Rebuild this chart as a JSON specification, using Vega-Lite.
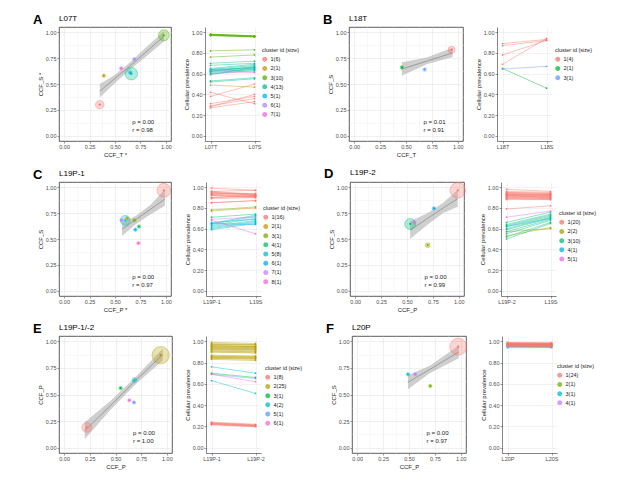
{
"$schema":"https://vega.github.io/schema/vega-lite/v6.json",
"padding":{"left":32,"top":13,"right":5,"bottom":5},
"background":"white",
"config":{"font":"Liberation Sans","view":{"stroke":null},
"axis":{"labelFontSize":5.5,"labelColor":"#4D4D4D","titleFontSize":6,"titleFontWeight":"normal","titleColor":"#1a1a1a","tickSize":2,"tickColor":"#333333","tickWidth":0.5,"labelPadding":1,"titlePadding":2,"domainColor":"#333333","domainWidth":0.6,"gridColor":"#E5E5E5","gridWidth":0.5,"labelFlush":false,"labelOverlap":false},
"legend":{"titleFontSize":5.5,"titleFontWeight":"normal","labelFontSize":5.5,"symbolSize":12,"symbolType":"circle","rowPadding":-0.8,"titlePadding":3,"labelOffset":3,"titleColor":"#1a1a1a","labelColor":"#1a1a1a","padding":0},
"title":{"fontSize":8,"fontWeight":"normal","anchor":"start","color":"#000000"}},
"datasets":{
"A_pts":[{"c":"1(6)","x":0.35,"y":0.30,"n":6},{"c":"2(1)","x":0.39,"y":0.58,"n":1},{"c":"3(10)","x":0.98,"y":0.97,"n":10},{"c":"4(13)","x":0.66,"y":0.60,"n":13},{"c":"5(1)","x":0.65,"y":0.61,"n":1},{"c":"6(1)","x":0.69,"y":0.74,"n":1},{"c":"7(1)","x":0.56,"y":0.65,"n":1}],
"A_band":[{"x":0.35,"lo":0.37,"hi":0.50,"fit":0.43},{"x":0.5,"lo":0.51,"hi":0.59,"fit":0.555},{"x":0.66,"lo":0.65,"hi":0.72,"fit":0.685},{"x":0.8,"lo":0.76,"hi":0.85,"fit":0.805},{"x":0.98,"lo":0.91,"hi":1.01,"fit":0.96}],
"A_lines":[{"m":1,"c":"1(6)","L07T":0.28,"L07S":0.40},{"m":2,"c":"1(6)","L07T":0.29,"L07S":0.36},{"m":3,"c":"1(6)","L07T":0.27,"L07S":0.33},{"m":4,"c":"1(6)","L07T":0.38,"L07S":0.50},{"m":5,"c":"1(6)","L07T":0.42,"L07S":0.31},{"m":6,"c":"1(6)","L07T":0.31,"L07S":0.38},{"m":7,"c":"2(1)","L07T":0.49,"L07S":0.47},{"m":8,"c":"3(10)","L07T":0.98,"L07S":0.96},{"m":9,"c":"3(10)","L07T":0.98,"L07S":0.965},{"m":10,"c":"3(10)","L07T":0.975,"L07S":0.955},{"m":11,"c":"3(10)","L07T":0.975,"L07S":0.96},{"m":12,"c":"3(10)","L07T":0.97,"L07S":0.96},{"m":13,"c":"3(10)","L07T":0.97,"L07S":0.955},{"m":14,"c":"3(10)","L07T":0.965,"L07S":0.955},{"m":15,"c":"3(10)","L07T":0.98,"L07S":0.965},{"m":16,"c":"3(10)","L07T":0.82,"L07S":0.83},{"m":17,"c":"3(10)","L07T":0.76,"L07S":0.78},{"m":18,"c":"4(13)","L07T":0.70,"L07S":0.72},{"m":19,"c":"4(13)","L07T":0.68,"L07S":0.70},{"m":20,"c":"4(13)","L07T":0.64,"L07S":0.68},{"m":21,"c":"4(13)","L07T":0.64,"L07S":0.66},{"m":22,"c":"4(13)","L07T":0.63,"L07S":0.65},{"m":23,"c":"4(13)","L07T":0.62,"L07S":0.64},{"m":24,"c":"4(13)","L07T":0.61,"L07S":0.64},{"m":25,"c":"4(13)","L07T":0.60,"L07S":0.63},{"m":26,"c":"4(13)","L07T":0.59,"L07S":0.66},{"m":27,"c":"4(13)","L07T":0.62,"L07S":0.67},{"m":28,"c":"4(13)","L07T":0.53,"L07S":0.56},{"m":29,"c":"4(13)","L07T":0.52,"L07S":0.55},{"m":30,"c":"4(13)","L07T":0.65,"L07S":0.69},{"m":31,"c":"5(1)","L07T":0.63,"L07S":0.66},{"m":32,"c":"6(1)","L07T":0.64,"L07S":0.61},{"m":33,"c":"7(1)","L07T":0.60,"L07S":0.62}],
"B_pts":[{"c":"1(4)","x":0.94,"y":0.83,"n":4},{"c":"2(1)","x":0.46,"y":0.66,"n":1},{"c":"3(1)","x":0.68,"y":0.64,"n":1}],
"B_band":[{"x":0.46,"lo":0.58,"hi":0.71,"fit":0.645},{"x":0.7,"lo":0.69,"hi":0.755,"fit":0.72},{"x":0.95,"lo":0.76,"hi":0.85,"fit":0.80}],
"B_lines":[{"m":1,"c":"1(4)","L18T":0.89,"L18S":0.93},{"m":2,"c":"1(4)","L18T":0.87,"L18S":0.92},{"m":3,"c":"1(4)","L18T":0.78,"L18S":0.92},{"m":4,"c":"1(4)","L18T":0.69,"L18S":0.94},{"m":5,"c":"2(1)","L18T":0.65,"L18S":0.46},{"m":6,"c":"3(1)","L18T":0.645,"L18S":0.67}],
"C_pts":[{"c":"1(16)","x":0.98,"y":0.97,"n":16},{"c":"2(1)","x":0.62,"y":0.70,"n":1},{"c":"3(1)","x":0.69,"y":0.68,"n":1},{"c":"4(1)","x":0.735,"y":0.62,"n":1},{"c":"5(8)","x":0.60,"y":0.68,"n":8},{"c":"6(1)","x":0.70,"y":0.59,"n":1},{"c":"7(1)","x":0.565,"y":0.68,"n":1},{"c":"8(1)","x":0.73,"y":0.46,"n":1}],
"C_band":[{"x":0.57,"lo":0.53,"hi":0.66,"fit":0.595},{"x":0.7,"lo":0.64,"hi":0.72,"fit":0.685},{"x":0.85,"lo":0.74,"hi":0.83,"fit":0.788},{"x":0.99,"lo":0.82,"hi":0.98,"fit":0.885}],
"C_lines":[{"m":1,"c":"1(16)","L19P-1":0.99,"L19S":0.97},{"m":2,"c":"1(16)","L19P-1":0.96,"L19S":0.93},{"m":3,"c":"1(16)","L19P-1":0.95,"L19S":0.93},{"m":4,"c":"1(16)","L19P-1":0.95,"L19S":0.92},{"m":5,"c":"1(16)","L19P-1":0.94,"L19S":0.94},{"m":6,"c":"1(16)","L19P-1":0.93,"L19S":0.91},{"m":7,"c":"1(16)","L19P-1":0.93,"L19S":0.92},{"m":8,"c":"1(16)","L19P-1":0.92,"L19S":0.90},{"m":9,"c":"1(16)","L19P-1":0.90,"L19S":0.91},{"m":10,"c":"1(16)","L19P-1":0.90,"L19S":0.92},{"m":11,"c":"1(16)","L19P-1":0.89,"L19S":0.90},{"m":12,"c":"1(16)","L19P-1":0.85,"L19S":0.87},{"m":13,"c":"1(16)","L19P-1":0.85,"L19S":0.87},{"m":14,"c":"1(16)","L19P-1":0.96,"L19S":0.97},{"m":15,"c":"1(16)","L19P-1":0.94,"L19S":0.93},{"m":16,"c":"1(16)","L19P-1":0.92,"L19S":0.91},{"m":17,"c":"2(1)","L19P-1":0.77,"L19S":0.80},{"m":18,"c":"3(1)","L19P-1":0.78,"L19S":0.81},{"m":19,"c":"4(1)","L19P-1":0.71,"L19S":0.74},{"m":20,"c":"5(8)","L19P-1":0.64,"L19S":0.72},{"m":21,"c":"5(8)","L19P-1":0.63,"L19S":0.70},{"m":22,"c":"5(8)","L19P-1":0.62,"L19S":0.68},{"m":23,"c":"5(8)","L19P-1":0.61,"L19S":0.67},{"m":24,"c":"5(8)","L19P-1":0.60,"L19S":0.66},{"m":25,"c":"5(8)","L19P-1":0.59,"L19S":0.65},{"m":26,"c":"5(8)","L19P-1":0.65,"L19S":0.73},{"m":27,"c":"5(8)","L19P-1":0.66,"L19S":0.69},{"m":28,"c":"6(1)","L19P-1":0.65,"L19S":0.64},{"m":29,"c":"7(1)","L19P-1":0.69,"L19S":0.71},{"m":30,"c":"8(1)","L19P-1":0.68,"L19S":0.55}],
"D_pts":[{"c":"1(20)","x":0.99,"y":0.97,"n":20},{"c":"2(2)","x":0.70,"y":0.44,"n":2},{"c":"3(10)","x":0.53,"y":0.645,"n":10},{"c":"4(1)","x":0.76,"y":0.795,"n":1},{"c":"5(1)","x":0.57,"y":0.66,"n":1}],
"D_band":[{"x":0.53,"lo":0.50,"hi":0.67,"fit":0.585},{"x":0.7,"lo":0.64,"hi":0.75,"fit":0.70},{"x":0.85,"lo":0.75,"hi":0.85,"fit":0.80},{"x":0.99,"lo":0.81,"hi":0.975,"fit":0.89}],
"D_lines":[{"m":1,"c":"1(20)","L19P-2":0.98,"L19S":0.96},{"m":2,"c":"1(20)","L19P-2":0.96,"L19S":0.95},{"m":3,"c":"1(20)","L19P-2":0.95,"L19S":0.94},{"m":4,"c":"1(20)","L19P-2":0.94,"L19S":0.93},{"m":5,"c":"1(20)","L19P-2":0.93,"L19S":0.93},{"m":6,"c":"1(20)","L19P-2":0.93,"L19S":0.92},{"m":7,"c":"1(20)","L19P-2":0.92,"L19S":0.92},{"m":8,"c":"1(20)","L19P-2":0.92,"L19S":0.91},{"m":9,"c":"1(20)","L19P-2":0.91,"L19S":0.91},{"m":10,"c":"1(20)","L19P-2":0.91,"L19S":0.90},{"m":11,"c":"1(20)","L19P-2":0.90,"L19S":0.90},{"m":12,"c":"1(20)","L19P-2":0.90,"L19S":0.89},{"m":13,"c":"1(20)","L19P-2":0.89,"L19S":0.89},{"m":14,"c":"1(20)","L19P-2":0.89,"L19S":0.88},{"m":15,"c":"1(20)","L19P-2":0.88,"L19S":0.88},{"m":16,"c":"1(20)","L19P-2":0.95,"L19S":0.94},{"m":17,"c":"1(20)","L19P-2":0.94,"L19S":0.93},{"m":18,"c":"1(20)","L19P-2":0.93,"L19S":0.92},{"m":19,"c":"1(20)","L19P-2":0.79,"L19S":0.82},{"m":20,"c":"1(20)","L19P-2":0.92,"L19S":0.90},{"m":21,"c":"2(2)","L19P-2":0.57,"L19S":0.60},{"m":22,"c":"2(2)","L19P-2":0.53,"L19S":0.61},{"m":23,"c":"3(10)","L19P-2":0.66,"L19S":0.76},{"m":24,"c":"3(10)","L19P-2":0.64,"L19S":0.74},{"m":25,"c":"3(10)","L19P-2":0.63,"L19S":0.73},{"m":26,"c":"3(10)","L19P-2":0.62,"L19S":0.72},{"m":27,"c":"3(10)","L19P-2":0.60,"L19S":0.71},{"m":28,"c":"3(10)","L19P-2":0.59,"L19S":0.70},{"m":29,"c":"3(10)","L19P-2":0.57,"L19S":0.69},{"m":30,"c":"3(10)","L19P-2":0.55,"L19S":0.68},{"m":31,"c":"3(10)","L19P-2":0.52,"L19S":0.66},{"m":32,"c":"3(10)","L19P-2":0.50,"L19S":0.65},{"m":33,"c":"4(1)","L19P-2":0.62,"L19S":0.70},{"m":34,"c":"5(1)","L19P-2":0.71,"L19S":0.77}],
"E_pts":[{"c":"1(8)","x":0.22,"y":0.19,"n":8},{"c":"2(25)","x":0.94,"y":0.87,"n":25},{"c":"3(1)","x":0.55,"y":0.56,"n":1},{"c":"4(2)","x":0.685,"y":0.635,"n":2},{"c":"5(1)","x":0.68,"y":0.425,"n":1},{"c":"6(1)","x":0.635,"y":0.445,"n":1}],
"E_band":[{"x":0.2,"lo":0.08,"hi":0.24,"fit":0.16},{"x":0.45,"lo":0.355,"hi":0.44,"fit":0.395},{"x":0.7,"lo":0.60,"hi":0.67,"fit":0.635},{"x":0.96,"lo":0.82,"hi":0.93,"fit":0.875}],
"E_lines":[{"m":1,"c":"1(8)","L19P-1":0.24,"L19P-2":0.22},{"m":2,"c":"1(8)","L19P-1":0.235,"L19P-2":0.215},{"m":3,"c":"1(8)","L19P-1":0.23,"L19P-2":0.21},{"m":4,"c":"1(8)","L19P-1":0.23,"L19P-2":0.21},{"m":5,"c":"1(8)","L19P-1":0.225,"L19P-2":0.205},{"m":6,"c":"1(8)","L19P-1":0.22,"L19P-2":0.20},{"m":7,"c":"1(8)","L19P-1":0.22,"L19P-2":0.20},{"m":8,"c":"1(8)","L19P-1":0.215,"L19P-2":0.20},{"m":9,"c":"2(25)","L19P-1":0.99,"L19P-2":0.98},{"m":10,"c":"2(25)","L19P-1":0.98,"L19P-2":0.97},{"m":11,"c":"2(25)","L19P-1":0.97,"L19P-2":0.97},{"m":12,"c":"2(25)","L19P-1":0.97,"L19P-2":0.96},{"m":13,"c":"2(25)","L19P-1":0.96,"L19P-2":0.95},{"m":14,"c":"2(25)","L19P-1":0.95,"L19P-2":0.95},{"m":15,"c":"2(25)","L19P-1":0.95,"L19P-2":0.94},{"m":16,"c":"2(25)","L19P-1":0.94,"L19P-2":0.94},{"m":17,"c":"2(25)","L19P-1":0.94,"L19P-2":0.93},{"m":18,"c":"2(25)","L19P-1":0.93,"L19P-2":0.93},{"m":19,"c":"2(25)","L19P-1":0.93,"L19P-2":0.92},{"m":20,"c":"2(25)","L19P-1":0.92,"L19P-2":0.92},{"m":21,"c":"2(25)","L19P-1":0.92,"L19P-2":0.91},{"m":22,"c":"2(25)","L19P-1":0.91,"L19P-2":0.90},{"m":23,"c":"2(25)","L19P-1":0.90,"L19P-2":0.90},{"m":24,"c":"2(25)","L19P-1":0.90,"L19P-2":0.89},{"m":25,"c":"2(25)","L19P-1":0.87,"L19P-2":0.86},{"m":26,"c":"2(25)","L19P-1":0.86,"L19P-2":0.86},{"m":27,"c":"2(25)","L19P-1":0.86,"L19P-2":0.85},{"m":28,"c":"2(25)","L19P-1":0.85,"L19P-2":0.85},{"m":29,"c":"2(25)","L19P-1":0.85,"L19P-2":0.84},{"m":30,"c":"2(25)","L19P-1":0.84,"L19P-2":0.84},{"m":31,"c":"2(25)","L19P-1":0.84,"L19P-2":0.83},{"m":32,"c":"2(25)","L19P-1":0.83,"L19P-2":0.82},{"m":33,"c":"2(25)","L19P-1":0.96,"L19P-2":0.95},{"m":34,"c":"3(1)","L19P-1":0.70,"L19P-2":0.66},{"m":35,"c":"4(2)","L19P-1":0.76,"L19P-2":0.70},{"m":36,"c":"4(2)","L19P-1":0.63,"L19P-2":0.51},{"m":37,"c":"5(1)","L19P-1":0.69,"L19P-2":0.65},{"m":38,"c":"6(1)","L19P-1":0.69,"L19P-2":0.62}],
"F_pts":[{"c":"1(24)","x":0.975,"y":0.95,"n":24},{"c":"2(1)","x":0.705,"y":0.58,"n":1},{"c":"3(1)","x":0.49,"y":0.69,"n":1},{"c":"4(1)","x":0.56,"y":0.69,"n":1}],
"F_band":[{"x":0.49,"lo":0.55,"hi":0.68,"fit":0.615},{"x":0.7,"lo":0.70,"hi":0.77,"fit":0.735},{"x":0.98,"lo":0.84,"hi":0.96,"fit":0.90}],
"F_lines":[{"m":1,"c":"1(24)","L20P":0.99,"L20S":0.985},{"m":2,"c":"1(24)","L20P":0.985,"L20S":0.98},{"m":3,"c":"1(24)","L20P":0.98,"L20S":0.98},{"m":4,"c":"1(24)","L20P":0.98,"L20S":0.975},{"m":5,"c":"1(24)","L20P":0.975,"L20S":0.975},{"m":6,"c":"1(24)","L20P":0.975,"L20S":0.97},{"m":7,"c":"1(24)","L20P":0.97,"L20S":0.97},{"m":8,"c":"1(24)","L20P":0.97,"L20S":0.965},{"m":9,"c":"1(24)","L20P":0.97,"L20S":0.97},{"m":10,"c":"1(24)","L20P":0.965,"L20S":0.965},{"m":11,"c":"1(24)","L20P":0.965,"L20S":0.96},{"m":12,"c":"1(24)","L20P":0.96,"L20S":0.96},{"m":13,"c":"1(24)","L20P":0.96,"L20S":0.955},{"m":14,"c":"1(24)","L20P":0.96,"L20S":0.96},{"m":15,"c":"1(24)","L20P":0.955,"L20S":0.955},{"m":16,"c":"1(24)","L20P":0.955,"L20S":0.95},{"m":17,"c":"1(24)","L20P":0.95,"L20S":0.95},{"m":18,"c":"1(24)","L20P":0.95,"L20S":0.945},{"m":19,"c":"1(24)","L20P":0.985,"L20S":0.985},{"m":20,"c":"1(24)","L20P":0.98,"L20S":0.975},{"m":21,"c":"1(24)","L20P":0.975,"L20S":0.97},{"m":22,"c":"1(24)","L20P":0.97,"L20S":0.97},{"m":23,"c":"1(24)","L20P":0.965,"L20S":0.96},{"m":24,"c":"1(24)","L20P":0.96,"L20S":0.955},{"m":25,"c":"2(1)","L20P":0.95,"L20S":0.95},{"m":26,"c":"3(1)","L20P":0.94,"L20S":0.94},{"m":27,"c":"4(1)","L20P":0.95,"L20S":0.945}]
},
"spacing":9,
"resolve":{"scale":{"color":"independent","size":"independent","x":"independent","y":"independent"}},
"vconcat":[
{"hconcat":[
 {"title":{"text":"A","fontSize":13,"fontWeight":"bold","frame":"bounds","anchor":"start","offset":-12,"dx":-4},"spacing":11,
  "resolve":{"scale":{"color":"independent","size":"independent","x":"independent","y":"independent"}},
  "hconcat":[
  {"width":112,"height":114,"title":{"text":"L07T","offset":4,"frame":"group"},"view":{"stroke":"#333333","strokeWidth":0.8},
   "layer":[
    {"data":{"name":"A_band"},"mark":{"type":"area","color":"#A8A8A8","opacity":0.55},"encoding":{"x":{"field":"x","type":"quantitative","scale":{"domain":[-0.05,1.05],"nice":false,"zero":false},"axis":{"title":"CCF_T *","tickCount":20,"values":[0,0.125,0.25,0.375,0.5,0.625,0.75,0.875,1],"labelExpr":"datum.value*4%1==0 ? format(datum.value,'.2f') : ''","domain":false,"tickOpacity":{"condition":{"test":"datum.value*4%1!=0","value":0},"value":1},"gridColor":{"condition":{"test":"datum.value*4%1!=0","value":"#F0F0F0"},"value":"#E0E0E0"}}},"y":{"field":"lo","type":"quantitative","scale":{"domain":[-0.05,1.05],"nice":false,"zero":false},"axis":{"title":"CCF_S *","tickCount":20,"values":[0,0.125,0.25,0.375,0.5,0.625,0.75,0.875,1],"labelExpr":"datum.value*4%1==0 ? format(datum.value,'.2f') : ''","domain":false,"tickOpacity":{"condition":{"test":"datum.value*4%1!=0","value":0},"value":1},"gridColor":{"condition":{"test":"datum.value*4%1!=0","value":"#F0F0F0"},"value":"#E0E0E0"}}},"y2":{"field":"hi"}}},
    {"data":{"name":"A_band"},"mark":{"type":"line","color":"#7A7A7A","strokeWidth":0.6},"encoding":{"x":{"field":"x","type":"quantitative"},"y":{"field":"fit","type":"quantitative"}}},
    {"data":{"name":"A_pts"},"mark":{"type":"circle","opacity":0.3},"encoding":{"x":{"field":"x","type":"quantitative"},"y":{"field":"y","type":"quantitative"},"size":{"field":"n","type":"quantitative","scale":{"domain":[0,25],"range":[0,300]},"legend":null},"color":{"field":"c","type":"nominal","scale":{"domain":["1(6)","2(1)","3(10)","4(13)","5(1)","6(1)","7(1)"],"range":["#F8766D","#C49A00","#53B400","#00C094","#00B6EB","#A58AFF","#FB61D7"]},"legend":null}}},
    {"data":{"name":"A_pts"},"mark":{"type":"point","filled":false,"strokeWidth":0.6,"opacity":0.7},"encoding":{"x":{"field":"x","type":"quantitative"},"y":{"field":"y","type":"quantitative"},"size":{"field":"n","type":"quantitative","legend":null},"color":{"field":"c","type":"nominal","legend":null}}},
    {"data":{"name":"A_pts"},"mark":{"type":"circle","size":5,"opacity":1},"encoding":{"x":{"field":"x","type":"quantitative"},"y":{"field":"y","type":"quantitative"},"color":{"field":"c","type":"nominal","legend":null}}},
    {"data":{"values":[{"t":"p = 0.00\nr = 0.98"}]},"mark":{"type":"text","align":"left","baseline":"top","fontSize":6,"lineBreak":"\n","lineHeight":8,"color":"#1a1a1a"},"encoding":{"x":{"datum":0.67,"type":"quantitative"},"y":{"datum":0.165,"type":"quantitative"},"text":{"field":"t"}}}
   ]},
  {"width":55,"height":114,"title":{"text":" ","offset":4},"data":{"name":"A_lines"},"transform":[{"fold":["L07T","L07S"],"as":["s","v"]}],
   "layer":[
    {"mark":{"type":"line","strokeWidth":0.6,"opacity":0.75},"encoding":{"x":{"field":"s","type":"nominal","sort":["L07T","L07S"],"scale":{"type":"point","padding":0.125},"axis":{"title":null,"labelAngle":0,"grid":true}},"y":{"field":"v","type":"quantitative","scale":{"domain":[-0.05,1.05],"nice":false,"zero":false},"axis":{"title":"Cellular prevalence","tickCount":20,"values":[0,0.2,0.4,0.6,0.8,1],"format":".2f","grid":true}},"color":{"field":"c","type":"nominal","scale":{"domain":["1(6)","2(1)","3(10)","4(13)","5(1)","6(1)","7(1)"],"range":["#F8766D","#C49A00","#53B400","#00C094","#00B6EB","#A58AFF","#FB61D7"]}},"detail":{"field":"m"}}},
    {"mark":{"type":"circle","size":3,"opacity":0.9},"encoding":{"x":{"field":"s","type":"nominal","sort":["L07T","L07S"]},"y":{"field":"v","type":"quantitative"},"color":{"field":"c","type":"nominal","legend":{"title":"cluster id (size)","orient":"none","legendX":57,"legendY":21,"symbolSize":12,"rowPadding":-0.8}}}}
   ]}
 ]},
 {"title":{"text":"B","fontSize":13,"fontWeight":"bold","frame":"bounds","anchor":"start","offset":-12,"dx":-4},"spacing":11,
  "resolve":{"scale":{"color":"independent","size":"independent","x":"independent","y":"independent"}},
  "hconcat":[
  {"width":114,"height":114,"title":{"text":"L18T","offset":4,"frame":"group"},"view":{"stroke":"#333333","strokeWidth":0.8},
   "layer":[
    {"data":{"name":"B_band"},"mark":{"type":"area","color":"#A8A8A8","opacity":0.55},"encoding":{"x":{"field":"x","type":"quantitative","scale":{"domain":[-0.05,1.05],"nice":false,"zero":false},"axis":{"title":"CCF_T","tickCount":20,"values":[0,0.125,0.25,0.375,0.5,0.625,0.75,0.875,1],"labelExpr":"datum.value*4%1==0 ? format(datum.value,'.2f') : ''","domain":false,"tickOpacity":{"condition":{"test":"datum.value*4%1!=0","value":0},"value":1},"gridColor":{"condition":{"test":"datum.value*4%1!=0","value":"#F0F0F0"},"value":"#E0E0E0"}}},"y":{"field":"lo","type":"quantitative","scale":{"domain":[-0.05,1.05],"nice":false,"zero":false},"axis":{"title":"CCF_S","tickCount":20,"values":[0,0.125,0.25,0.375,0.5,0.625,0.75,0.875,1],"labelExpr":"datum.value*4%1==0 ? format(datum.value,'.2f') : ''","domain":false,"tickOpacity":{"condition":{"test":"datum.value*4%1!=0","value":0},"value":1},"gridColor":{"condition":{"test":"datum.value*4%1!=0","value":"#F0F0F0"},"value":"#E0E0E0"}}},"y2":{"field":"hi"}}},
    {"data":{"name":"B_band"},"mark":{"type":"line","color":"#7A7A7A","strokeWidth":0.6},"encoding":{"x":{"field":"x","type":"quantitative"},"y":{"field":"fit","type":"quantitative"}}},
    {"data":{"name":"B_pts"},"mark":{"type":"circle","opacity":0.3},"encoding":{"x":{"field":"x","type":"quantitative"},"y":{"field":"y","type":"quantitative"},"size":{"field":"n","type":"quantitative","scale":{"domain":[0,25],"range":[0,300]},"legend":null},"color":{"field":"c","type":"nominal","scale":{"domain":["1(4)","2(1)","3(1)"],"range":["#F8766D","#00BA38","#619CFF"]},"legend":null}}},
    {"data":{"name":"B_pts"},"mark":{"type":"point","filled":false,"strokeWidth":0.6,"opacity":0.7},"encoding":{"x":{"field":"x","type":"quantitative"},"y":{"field":"y","type":"quantitative"},"size":{"field":"n","type":"quantitative","legend":null},"color":{"field":"c","type":"nominal","legend":null}}},
    {"data":{"name":"B_pts"},"mark":{"type":"circle","size":5,"opacity":1},"encoding":{"x":{"field":"x","type":"quantitative"},"y":{"field":"y","type":"quantitative"},"color":{"field":"c","type":"nominal","legend":null}}},
    {"data":{"values":[{"t":"p = 0.01\nr = 0.91"}]},"mark":{"type":"text","align":"left","baseline":"top","fontSize":6,"lineBreak":"\n","lineHeight":8,"color":"#1a1a1a"},"encoding":{"x":{"datum":0.67,"type":"quantitative"},"y":{"datum":0.165,"type":"quantitative"},"text":{"field":"t"}}}
   ]},
  {"width":55,"height":114,"title":{"text":" ","offset":4},"data":{"name":"B_lines"},"transform":[{"fold":["L18T","L18S"],"as":["s","v"]}],
   "layer":[
    {"mark":{"type":"line","strokeWidth":0.6,"opacity":0.75},"encoding":{"x":{"field":"s","type":"nominal","sort":["L18T","L18S"],"scale":{"type":"point","padding":0.125},"axis":{"title":null,"labelAngle":0,"grid":true}},"y":{"field":"v","type":"quantitative","scale":{"domain":[-0.05,1.05],"nice":false,"zero":false},"axis":{"title":"Cellular prevalence","tickCount":20,"values":[0,0.2,0.4,0.6,0.8,1],"format":".2f","grid":true}},"color":{"field":"c","type":"nominal","scale":{"domain":["1(4)","2(1)","3(1)"],"range":["#F8766D","#00BA38","#619CFF"]}},"detail":{"field":"m"}}},
    {"mark":{"type":"circle","size":3,"opacity":0.9},"encoding":{"x":{"field":"s","type":"nominal","sort":["L18T","L18S"]},"y":{"field":"v","type":"quantitative"},"color":{"field":"c","type":"nominal","legend":{"title":"cluster id (size)","orient":"none","legendX":58,"legendY":21,"symbolSize":12,"rowPadding":-0.8}}}}
   ]}
 ]}
],"spacing":23,"resolve":{"scale":{"color":"independent","size":"independent","x":"independent","y":"independent"}}},
{"hconcat":[
 {"title":{"text":"C","fontSize":13,"fontWeight":"bold","frame":"bounds","anchor":"start","offset":-12,"dx":-4},"spacing":11,
  "resolve":{"scale":{"color":"independent","size":"independent","x":"independent","y":"independent"}},
  "hconcat":[
  {"width":112,"height":114,"title":{"text":"L19P-1","offset":4,"frame":"group"},"view":{"stroke":"#333333","strokeWidth":0.8},
   "layer":[
    {"data":{"name":"C_band"},"mark":{"type":"area","color":"#A8A8A8","opacity":0.55},"encoding":{"x":{"field":"x","type":"quantitative","scale":{"domain":[-0.05,1.05],"nice":false,"zero":false},"axis":{"title":"CCF_P *","tickCount":20,"values":[0,0.125,0.25,0.375,0.5,0.625,0.75,0.875,1],"labelExpr":"datum.value*4%1==0 ? format(datum.value,'.2f') : ''","domain":false,"tickOpacity":{"condition":{"test":"datum.value*4%1!=0","value":0},"value":1},"gridColor":{"condition":{"test":"datum.value*4%1!=0","value":"#F0F0F0"},"value":"#E0E0E0"}}},"y":{"field":"lo","type":"quantitative","scale":{"domain":[-0.05,1.05],"nice":false,"zero":false},"axis":{"title":"CCF_S","tickCount":20,"values":[0,0.125,0.25,0.375,0.5,0.625,0.75,0.875,1],"labelExpr":"datum.value*4%1==0 ? format(datum.value,'.2f') : ''","domain":false,"tickOpacity":{"condition":{"test":"datum.value*4%1!=0","value":0},"value":1},"gridColor":{"condition":{"test":"datum.value*4%1!=0","value":"#F0F0F0"},"value":"#E0E0E0"}}},"y2":{"field":"hi"}}},
    {"data":{"name":"C_band"},"mark":{"type":"line","color":"#7A7A7A","strokeWidth":0.6},"encoding":{"x":{"field":"x","type":"quantitative"},"y":{"field":"fit","type":"quantitative"}}},
    {"data":{"name":"C_pts"},"mark":{"type":"circle","opacity":0.3},"encoding":{"x":{"field":"x","type":"quantitative"},"y":{"field":"y","type":"quantitative"},"size":{"field":"n","type":"quantitative","scale":{"domain":[0,25],"range":[0,300]},"legend":null},"color":{"field":"c","type":"nominal","scale":{"domain":["1(16)","2(1)","3(1)","4(1)","5(8)","6(1)","7(1)","8(1)"],"range":["#F8766D","#CD9600","#7CAE00","#00BE67","#00BFC4","#00A9FF","#C77CFF","#FF61CC"]},"legend":null}}},
    {"data":{"name":"C_pts"},"mark":{"type":"point","filled":false,"strokeWidth":0.6,"opacity":0.7},"encoding":{"x":{"field":"x","type":"quantitative"},"y":{"field":"y","type":"quantitative"},"size":{"field":"n","type":"quantitative","legend":null},"color":{"field":"c","type":"nominal","legend":null}}},
    {"data":{"name":"C_pts"},"mark":{"type":"circle","size":5,"opacity":1},"encoding":{"x":{"field":"x","type":"quantitative"},"y":{"field":"y","type":"quantitative"},"color":{"field":"c","type":"nominal","legend":null}}},
    {"data":{"values":[{"t":"p = 0.00\nr = 0.97"}]},"mark":{"type":"text","align":"left","baseline":"top","fontSize":6,"lineBreak":"\n","lineHeight":8,"color":"#1a1a1a"},"encoding":{"x":{"datum":0.67,"type":"quantitative"},"y":{"datum":0.165,"type":"quantitative"},"text":{"field":"t"}}}
   ]},
  {"width":55,"height":114,"title":{"text":" ","offset":4},"data":{"name":"C_lines"},"transform":[{"fold":["L19P-1","L19S"],"as":["s","v"]}],
   "layer":[
    {"mark":{"type":"line","strokeWidth":0.6,"opacity":0.75},"encoding":{"x":{"field":"s","type":"nominal","sort":["L19P-1","L19S"],"scale":{"type":"point","padding":0.125},"axis":{"title":null,"labelAngle":0,"grid":true}},"y":{"field":"v","type":"quantitative","scale":{"domain":[-0.05,1.05],"nice":false,"zero":false},"axis":{"title":"Cellular prevalence","tickCount":20,"values":[0,0.2,0.4,0.6,0.8,1],"format":".2f","grid":true}},"color":{"field":"c","type":"nominal","scale":{"domain":["1(16)","2(1)","3(1)","4(1)","5(8)","6(1)","7(1)","8(1)"],"range":["#F8766D","#CD9600","#7CAE00","#00BE67","#00BFC4","#00A9FF","#C77CFF","#FF61CC"]}},"detail":{"field":"m"}}},
    {"mark":{"type":"circle","size":3,"opacity":0.9},"encoding":{"x":{"field":"s","type":"nominal","sort":["L19P-1","L19S"]},"y":{"field":"v","type":"quantitative"},"color":{"field":"c","type":"nominal","legend":{"title":"cluster id (size)","orient":"none","legendX":57,"legendY":24,"symbolSize":12,"rowPadding":-0.8}}}}
   ]}
 ]},
 {"title":{"text":"D","fontSize":13,"fontWeight":"bold","frame":"bounds","anchor":"start","offset":-12,"dx":-4},"spacing":11,
  "resolve":{"scale":{"color":"independent","size":"independent","x":"independent","y":"independent"}},
  "hconcat":[
  {"width":114,"height":114,"title":{"text":"L19P-2","offset":4,"frame":"group"},"view":{"stroke":"#333333","strokeWidth":0.8},
   "layer":[
    {"data":{"name":"D_band"},"mark":{"type":"area","color":"#A8A8A8","opacity":0.55},"encoding":{"x":{"field":"x","type":"quantitative","scale":{"domain":[-0.05,1.05],"nice":false,"zero":false},"axis":{"title":"CCF_P","tickCount":20,"values":[0,0.125,0.25,0.375,0.5,0.625,0.75,0.875,1],"labelExpr":"datum.value*4%1==0 ? format(datum.value,'.2f') : ''","domain":false,"tickOpacity":{"condition":{"test":"datum.value*4%1!=0","value":0},"value":1},"gridColor":{"condition":{"test":"datum.value*4%1!=0","value":"#F0F0F0"},"value":"#E0E0E0"}}},"y":{"field":"lo","type":"quantitative","scale":{"domain":[-0.05,1.05],"nice":false,"zero":false},"axis":{"title":"CCF_S","tickCount":20,"values":[0,0.125,0.25,0.375,0.5,0.625,0.75,0.875,1],"labelExpr":"datum.value*4%1==0 ? format(datum.value,'.2f') : ''","domain":false,"tickOpacity":{"condition":{"test":"datum.value*4%1!=0","value":0},"value":1},"gridColor":{"condition":{"test":"datum.value*4%1!=0","value":"#F0F0F0"},"value":"#E0E0E0"}}},"y2":{"field":"hi"}}},
    {"data":{"name":"D_band"},"mark":{"type":"line","color":"#7A7A7A","strokeWidth":0.6},"encoding":{"x":{"field":"x","type":"quantitative"},"y":{"field":"fit","type":"quantitative"}}},
    {"data":{"name":"D_pts"},"mark":{"type":"circle","opacity":0.3},"encoding":{"x":{"field":"x","type":"quantitative"},"y":{"field":"y","type":"quantitative"},"size":{"field":"n","type":"quantitative","scale":{"domain":[0,25],"range":[0,300]},"legend":null},"color":{"field":"c","type":"nominal","scale":{"domain":["1(20)","2(2)","3(10)","4(1)","5(1)"],"range":["#F8766D","#A3A500","#00BF7D","#00B0F6","#E76BF3"]},"legend":null}}},
    {"data":{"name":"D_pts"},"mark":{"type":"point","filled":false,"strokeWidth":0.6,"opacity":0.7},"encoding":{"x":{"field":"x","type":"quantitative"},"y":{"field":"y","type":"quantitative"},"size":{"field":"n","type":"quantitative","legend":null},"color":{"field":"c","type":"nominal","legend":null}}},
    {"data":{"name":"D_pts"},"mark":{"type":"circle","size":5,"opacity":1},"encoding":{"x":{"field":"x","type":"quantitative"},"y":{"field":"y","type":"quantitative"},"color":{"field":"c","type":"nominal","legend":null}}},
    {"data":{"values":[{"t":"p = 0.00\nr = 0.99"}]},"mark":{"type":"text","align":"left","baseline":"top","fontSize":6,"lineBreak":"\n","lineHeight":8,"color":"#1a1a1a"},"encoding":{"x":{"datum":0.67,"type":"quantitative"},"y":{"datum":0.165,"type":"quantitative"},"text":{"field":"t"}}}
   ]},
  {"width":55,"height":114,"title":{"text":" ","offset":4},"data":{"name":"D_lines"},"transform":[{"fold":["L19P-2","L19S"],"as":["s","v"]}],
   "layer":[
    {"mark":{"type":"line","strokeWidth":0.6,"opacity":0.75},"encoding":{"x":{"field":"s","type":"nominal","sort":["L19P-2","L19S"],"scale":{"type":"point","padding":0.125},"axis":{"title":null,"labelAngle":0,"grid":true}},"y":{"field":"v","type":"quantitative","scale":{"domain":[-0.05,1.05],"nice":false,"zero":false},"axis":{"title":"Cellular prevalence","tickCount":20,"values":[0,0.2,0.4,0.6,0.8,1],"format":".2f","grid":true}},"color":{"field":"c","type":"nominal","scale":{"domain":["1(20)","2(2)","3(10)","4(1)","5(1)"],"range":["#F8766D","#A3A500","#00BF7D","#00B0F6","#E76BF3"]}},"detail":{"field":"m"}}},
    {"mark":{"type":"circle","size":3,"opacity":0.9},"encoding":{"x":{"field":"s","type":"nominal","sort":["L19P-2","L19S"]},"y":{"field":"v","type":"quantitative"},"color":{"field":"c","type":"nominal","legend":{"title":"cluster id (size)","orient":"none","legendX":58,"legendY":29,"symbolSize":12,"rowPadding":-0.8}}}}
   ]}
 ]}
],"spacing":23,"resolve":{"scale":{"color":"independent","size":"independent","x":"independent","y":"independent"}}},
{"hconcat":[
 {"title":{"text":"E","fontSize":13,"fontWeight":"bold","frame":"bounds","anchor":"start","offset":-12,"dx":-4},"spacing":11,
  "resolve":{"scale":{"color":"independent","size":"independent","x":"independent","y":"independent"}},
  "hconcat":[
  {"width":113,"height":117,"title":{"text":"L19P-1/-2","offset":4,"frame":"group"},"view":{"stroke":"#333333","strokeWidth":0.8},
   "layer":[
    {"data":{"name":"E_band"},"mark":{"type":"area","color":"#A8A8A8","opacity":0.55},"encoding":{"x":{"field":"x","type":"quantitative","scale":{"domain":[-0.05,1.05],"nice":false,"zero":false},"axis":{"title":"CCF_P","tickCount":20,"values":[0,0.125,0.25,0.375,0.5,0.625,0.75,0.875,1],"labelExpr":"datum.value*4%1==0 ? format(datum.value,'.2f') : ''","domain":false,"tickOpacity":{"condition":{"test":"datum.value*4%1!=0","value":0},"value":1},"gridColor":{"condition":{"test":"datum.value*4%1!=0","value":"#F0F0F0"},"value":"#E0E0E0"}}},"y":{"field":"lo","type":"quantitative","scale":{"domain":[-0.05,1.05],"nice":false,"zero":false},"axis":{"title":"CCF_P","tickCount":20,"values":[0,0.125,0.25,0.375,0.5,0.625,0.75,0.875,1],"labelExpr":"datum.value*4%1==0 ? format(datum.value,'.2f') : ''","domain":false,"tickOpacity":{"condition":{"test":"datum.value*4%1!=0","value":0},"value":1},"gridColor":{"condition":{"test":"datum.value*4%1!=0","value":"#F0F0F0"},"value":"#E0E0E0"}}},"y2":{"field":"hi"}}},
    {"data":{"name":"E_band"},"mark":{"type":"line","color":"#7A7A7A","strokeWidth":0.6},"encoding":{"x":{"field":"x","type":"quantitative"},"y":{"field":"fit","type":"quantitative"}}},
    {"data":{"name":"E_pts"},"mark":{"type":"circle","opacity":0.3},"encoding":{"x":{"field":"x","type":"quantitative"},"y":{"field":"y","type":"quantitative"},"size":{"field":"n","type":"quantitative","scale":{"domain":[0,25],"range":[0,300]},"legend":null},"color":{"field":"c","type":"nominal","scale":{"domain":["1(8)","2(25)","3(1)","4(2)","5(1)","6(1)"],"range":["#F8766D","#B79F00","#00BA38","#00BFC4","#619CFF","#F564E3"]},"legend":null}}},
    {"data":{"name":"E_pts"},"mark":{"type":"point","filled":false,"strokeWidth":0.6,"opacity":0.7},"encoding":{"x":{"field":"x","type":"quantitative"},"y":{"field":"y","type":"quantitative"},"size":{"field":"n","type":"quantitative","legend":null},"color":{"field":"c","type":"nominal","legend":null}}},
    {"data":{"name":"E_pts"},"mark":{"type":"circle","size":5,"opacity":1},"encoding":{"x":{"field":"x","type":"quantitative"},"y":{"field":"y","type":"quantitative"},"color":{"field":"c","type":"nominal","legend":null}}},
    {"data":{"values":[{"t":"p = 0.00\nr = 1.00"}]},"mark":{"type":"text","align":"left","baseline":"top","fontSize":6,"lineBreak":"\n","lineHeight":8,"color":"#1a1a1a"},"encoding":{"x":{"datum":0.67,"type":"quantitative"},"y":{"datum":0.165,"type":"quantitative"},"text":{"field":"t"}}}
   ]},
  {"width":55,"height":117,"title":{"text":" ","offset":4},"data":{"name":"E_lines"},"transform":[{"fold":["L19P-1","L19P-2"],"as":["s","v"]}],
   "layer":[
    {"mark":{"type":"line","strokeWidth":0.6,"opacity":0.75},"encoding":{"x":{"field":"s","type":"nominal","sort":["L19P-1","L19P-2"],"scale":{"type":"point","padding":0.125},"axis":{"title":null,"labelAngle":0,"grid":true}},"y":{"field":"v","type":"quantitative","scale":{"domain":[-0.05,1.05],"nice":false,"zero":false},"axis":{"title":"Cellular prevalence","tickCount":20,"values":[0,0.2,0.4,0.6,0.8,1],"format":".2f","grid":true}},"color":{"field":"c","type":"nominal","scale":{"domain":["1(8)","2(25)","3(1)","4(2)","5(1)","6(1)"],"range":["#F8766D","#B79F00","#00BA38","#00BFC4","#619CFF","#F564E3"]}},"detail":{"field":"m"}}},
    {"mark":{"type":"circle","size":3,"opacity":0.9},"encoding":{"x":{"field":"s","type":"nominal","sort":["L19P-1","L19P-2"]},"y":{"field":"v","type":"quantitative"},"color":{"field":"c","type":"nominal","legend":{"title":"cluster id (size)","orient":"none","legendX":59,"legendY":30,"symbolSize":12,"rowPadding":-0.8}}}}
   ]}
 ]},
 {"title":{"text":"F","fontSize":13,"fontWeight":"bold","frame":"bounds","anchor":"start","offset":-12,"dx":-4},"spacing":11,
  "resolve":{"scale":{"color":"independent","size":"independent","x":"independent","y":"independent"}},
  "hconcat":[
  {"width":114,"height":117,"title":{"text":"L20P","offset":4,"frame":"group"},"view":{"stroke":"#333333","strokeWidth":0.8},
   "layer":[
    {"data":{"name":"F_band"},"mark":{"type":"area","color":"#A8A8A8","opacity":0.55},"encoding":{"x":{"field":"x","type":"quantitative","scale":{"domain":[-0.05,1.05],"nice":false,"zero":false},"axis":{"title":"CCF_P","tickCount":20,"values":[0,0.125,0.25,0.375,0.5,0.625,0.75,0.875,1],"labelExpr":"datum.value*4%1==0 ? format(datum.value,'.2f') : ''","domain":false,"tickOpacity":{"condition":{"test":"datum.value*4%1!=0","value":0},"value":1},"gridColor":{"condition":{"test":"datum.value*4%1!=0","value":"#F0F0F0"},"value":"#E0E0E0"}}},"y":{"field":"lo","type":"quantitative","scale":{"domain":[-0.05,1.05],"nice":false,"zero":false},"axis":{"title":"CCF_S","tickCount":20,"values":[0,0.125,0.25,0.375,0.5,0.625,0.75,0.875,1],"labelExpr":"datum.value*4%1==0 ? format(datum.value,'.2f') : ''","domain":false,"tickOpacity":{"condition":{"test":"datum.value*4%1!=0","value":0},"value":1},"gridColor":{"condition":{"test":"datum.value*4%1!=0","value":"#F0F0F0"},"value":"#E0E0E0"}}},"y2":{"field":"hi"}}},
    {"data":{"name":"F_band"},"mark":{"type":"line","color":"#7A7A7A","strokeWidth":0.6},"encoding":{"x":{"field":"x","type":"quantitative"},"y":{"field":"fit","type":"quantitative"}}},
    {"data":{"name":"F_pts"},"mark":{"type":"circle","opacity":0.3},"encoding":{"x":{"field":"x","type":"quantitative"},"y":{"field":"y","type":"quantitative"},"size":{"field":"n","type":"quantitative","scale":{"domain":[0,25],"range":[0,300]},"legend":null},"color":{"field":"c","type":"nominal","scale":{"domain":["1(24)","2(1)","3(1)","4(1)"],"range":["#F8766D","#7CAE00","#00BFC4","#C77CFF"]},"legend":null}}},
    {"data":{"name":"F_pts"},"mark":{"type":"point","filled":false,"strokeWidth":0.6,"opacity":0.7},"encoding":{"x":{"field":"x","type":"quantitative"},"y":{"field":"y","type":"quantitative"},"size":{"field":"n","type":"quantitative","legend":null},"color":{"field":"c","type":"nominal","legend":null}}},
    {"data":{"name":"F_pts"},"mark":{"type":"circle","size":5,"opacity":1},"encoding":{"x":{"field":"x","type":"quantitative"},"y":{"field":"y","type":"quantitative"},"color":{"field":"c","type":"nominal","legend":null}}},
    {"data":{"values":[{"t":"p = 0.00\nr = 0.97"}]},"mark":{"type":"text","align":"left","baseline":"top","fontSize":6,"lineBreak":"\n","lineHeight":8,"color":"#1a1a1a"},"encoding":{"x":{"datum":0.67,"type":"quantitative"},"y":{"datum":0.165,"type":"quantitative"},"text":{"field":"t"}}}
   ]},
  {"width":55,"height":117,"title":{"text":" ","offset":4},"data":{"name":"F_lines"},"transform":[{"fold":["L20P","L20S"],"as":["s","v"]}],
   "layer":[
    {"mark":{"type":"line","strokeWidth":0.6,"opacity":0.75},"encoding":{"x":{"field":"s","type":"nominal","sort":["L20P","L20S"],"scale":{"type":"point","padding":0.125},"axis":{"title":null,"labelAngle":0,"grid":true}},"y":{"field":"v","type":"quantitative","scale":{"domain":[-0.05,1.05],"nice":false,"zero":false},"axis":{"title":"Cellular prevalence","tickCount":20,"values":[0,0.2,0.4,0.6,0.8,1],"format":".2f","grid":true}},"color":{"field":"c","type":"nominal","scale":{"domain":["1(24)","2(1)","3(1)","4(1)"],"range":["#F8766D","#7CAE00","#00BFC4","#C77CFF"]}},"detail":{"field":"m"}}},
    {"mark":{"type":"circle","size":3,"opacity":0.9},"encoding":{"x":{"field":"s","type":"nominal","sort":["L20P","L20S"]},"y":{"field":"v","type":"quantitative"},"color":{"field":"c","type":"nominal","legend":{"title":"cluster id (size)","orient":"none","legendX":55,"legendY":28,"symbolSize":12,"rowPadding":-0.8}}}}
   ]}
 ]}
],"spacing":23,"resolve":{"scale":{"color":"independent","size":"independent","x":"independent","y":"independent"}}}
]
}
